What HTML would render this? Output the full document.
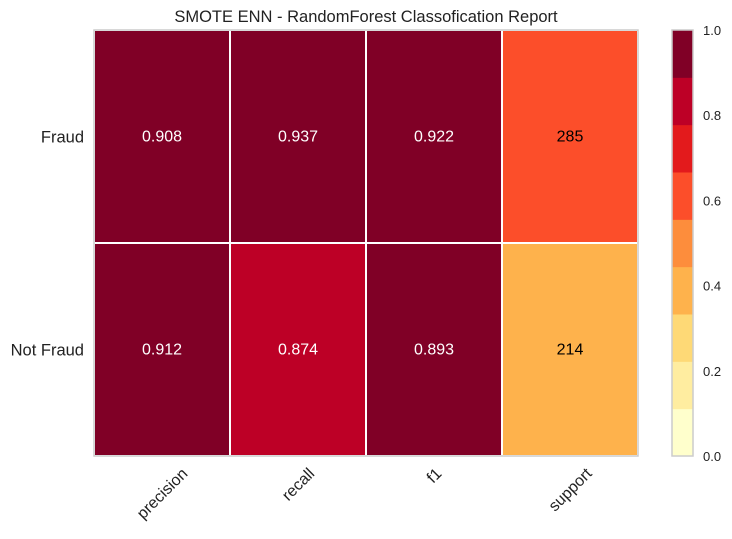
<!DOCTYPE html>
<html><head><meta charset="utf-8"><style>
body{margin:0;background:#fff;font-family:"Liberation Sans",sans-serif}
svg text{font-family:"Liberation Sans",sans-serif}
</style></head><body>
<svg id="c" width="732" height="534"></svg>
<script>
const classes=["Fraud","Not Fraud"];
const metrics=["precision","recall","f1","support"];
const fraudValues=[0.908,0.937,0.922,285];
const notFraudValues=[0.912,0.874,0.893,214];
const cbTicks=["0.0","0.2","0.4","0.6","0.8","1.0"];
const palette=["#ffffcc","#ffeda0","#fed976","#feb24c","#fd8d3c","#fc4e2a","#e31a1c","#bd0026","#800026"];
const rows=[fraudValues,notFraudValues];
const NS="http://www.w3.org/2000/svg";
const svg=document.getElementById('c');
function mk(t,a,p){const e=document.createElementNS(NS,t);for(const k in a)e.setAttribute(k,a[k]);(p||svg).appendChild(e);return e;}
const X0=94,X1=638,Y0=30,Y1=456;
const cw=(X1-X0)/metrics.length, rh=(Y1-Y0)/classes.length;
const totalSupport=rows.reduce((s,r)=>s+r[3],0);
function colorOf(v){const i=Math.min(palette.length-1,Math.floor(v*palette.length));return palette[Math.max(0,i)];}
const t=mk('text',{x:366,y:22,'text-anchor':'middle','font-size':16.5,fill:'#222'});
t.textContent="SMOTE ENN - RandomForest Classofication Report";


rows.forEach((r,ri)=>{
  r.forEach((v,ci)=>{
    const norm=ci===3?v/totalSupport:v;
    const rect=mk('rect',{x:X0+ci*cw,y:Y0+ri*rh,width:cw,height:rh,fill:colorOf(norm),stroke:'#fff','stroke-width':2});
    
    
    const tx=mk('text',{x:X0+ci*cw+cw/2,y:Y0+ri*rh+rh/2+5,'text-anchor':'middle','font-size':16,fill:norm>0.6?'#fff':'#000'});
    tx.textContent=ci===3?String(v):v.toFixed(3);
    
    
  });
  const yl=mk('text',{x:84,y:Y0+ri*rh+rh/2+6,'text-anchor':'end','font-size':16.5,fill:'#222'});
  yl.textContent=classes[ri];
  
  
});
const fr=mk('rect',{x:X0,y:Y0,width:X1-X0,height:Y1-Y0,fill:'none',stroke:'#ccc','stroke-width':1.5});


metrics.forEach((m,i)=>{
  const l=mk('text',{x:0,y:0,'text-anchor':'middle','font-size':16,fill:'#222'});
  l.textContent=m;
  
  
  const w=l.getComputedTextLength(), h=16;
  const bb=(w+h)*0.7071;
  const cx=X0+i*cw+cw/2, cy=465+bb/2;
  l.setAttribute('x',cx);
  l.setAttribute('y',cy+5.5);
  l.setAttribute('transform',`rotate(-45 ${cx} ${cy})`);
});
const CX=672,CW=21,bh=(Y1-Y0)/palette.length;
palette.forEach((c,i)=>{
  const b=mk('rect',{x:CX,y:Y1-(i+1)*bh,width:CW,height:bh+0.5,fill:c});
  
  
});
const cbf=mk('rect',{x:CX,y:Y0,width:CW,height:Y1-Y0,fill:'none',stroke:'#ccc','stroke-width':1.5});


cbTicks.forEach(s=>{
  const v=parseFloat(s);
  const tl=mk('text',{x:703,y:Y1-v*(Y1-Y0)+5,'font-size':13,fill:'#222'});
  tl.textContent=s;
  
  
});
</script>
</body></html>
